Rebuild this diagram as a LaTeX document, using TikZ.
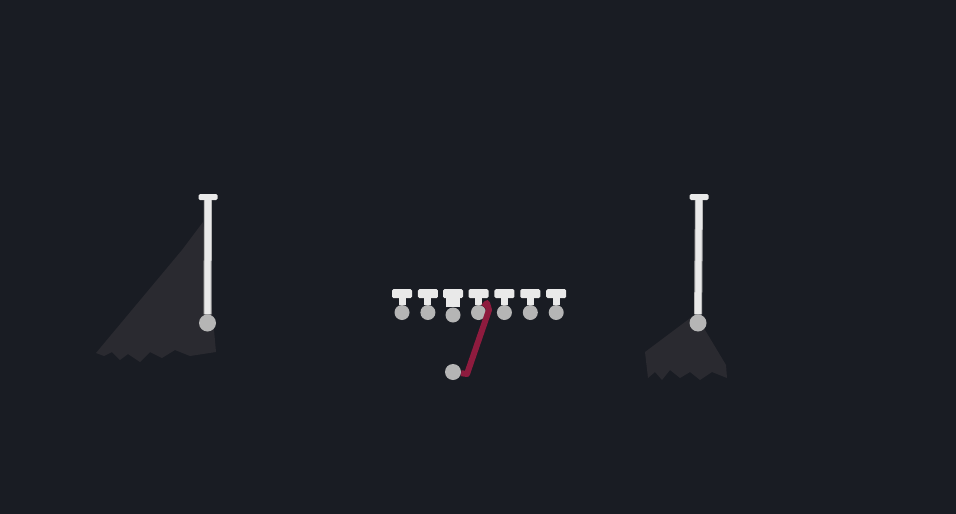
\documentclass[tikz,border=0pt]{standalone}
\usetikzlibrary{positioning}
\definecolor{field}{HTML}{191C23}
\definecolor{shadowgray}{HTML}{2A2A30}
\definecolor{chalk}{HTML}{E9E9E9}
\definecolor{disc}{HTML}{B5B5B5}
\definecolor{route}{HTML}{8E1B3E}

\begin{document}
\begin{tikzpicture}[x=1pt,y=-1pt,every node/.style={circle,fill=disc,inner sep=0pt,minimum size=15pt},
  tbar/.style={rectangle,fill=chalk,minimum width=20pt,minimum height=9pt,rounded corners=1.5pt},
  stem/.style={draw=chalk,line width=7pt}]
  \fill[field](0,0) rectangle (956,514);
  \fill[shadowgray](203,222)--(182,250)--(96,353)--(104,356)--(112,352)--(120,360)--(128,354)--(140,362)--(150,352)--(162,358)--(175,350)--(190,356)--(216,352)--(214,330)--cycle;
  \fill[shadowgray](693,316)--(645,352)--(648,378)--(655,372)--(662,380)--(670,370)--(680,378)--(690,372)--(700,380)--(712,372)--(727,378)--(726,365)--(705,330)--cycle;

  \node (1) at (402,312.5){};
  \node[right=10.5pt of 1](2){};
  \node (3) at (453,315){};
  \node (4) at (478.5,312.5){};
  \node[right=10.5pt of 4](5){};
  \node[right=10.5pt of 5](6){};
  \node[right=10.5pt of 6](7){};
  \node[tbar,above=6.5pt of 1](1t){};
  \node[tbar,above=6.5pt of 2](2t){};
  \node[tbar,above=9pt of 3](3t){};
  \node[tbar,above=6.5pt of 4](4t){};
  \node[tbar,above=6.5pt of 5](5t){};
  \node[tbar,above=6.5pt of 6](6t){};
  \node[tbar,above=6.5pt of 7](7t){};
  \draw[stem](1)--(1t);
  \draw[stem](2)--(2t);
  \draw[stem,line width=14pt](3)--(3t);
  \draw[stem](4)--(4t);
  \draw[stem](5)--(5t);
  \draw[stem](6)--(6t);
  \draw[stem](7)--(7t);

  \node[minimum size=17pt] (8) at (207.5,323){};
  \node[minimum size=17pt] (9) at (698,323){};
  \node[tbar,minimum width=19pt,minimum height=6pt] (8t) at (208,197){};
  \node[tbar,minimum width=19pt,minimum height=6pt] (9t) at (699,197){};
  \draw[draw=disc,line width=1pt,double=chalk,double distance=6pt](8)--(8t);
  \draw[draw=disc,line width=1pt,double=chalk,double distance=6pt](9)--(9t);

  \node[minimum size=16pt] (10) at (453,372){};
  \coordinate (r1) at (467,374);
  \coordinate (r2) at (489,310);
  \coordinate (r3) at (487,303);
  \draw[route,line width=6pt,line join=round](10)--(r1)--(r2)--(r3)--(4);
\end{tikzpicture}
\end{document}
